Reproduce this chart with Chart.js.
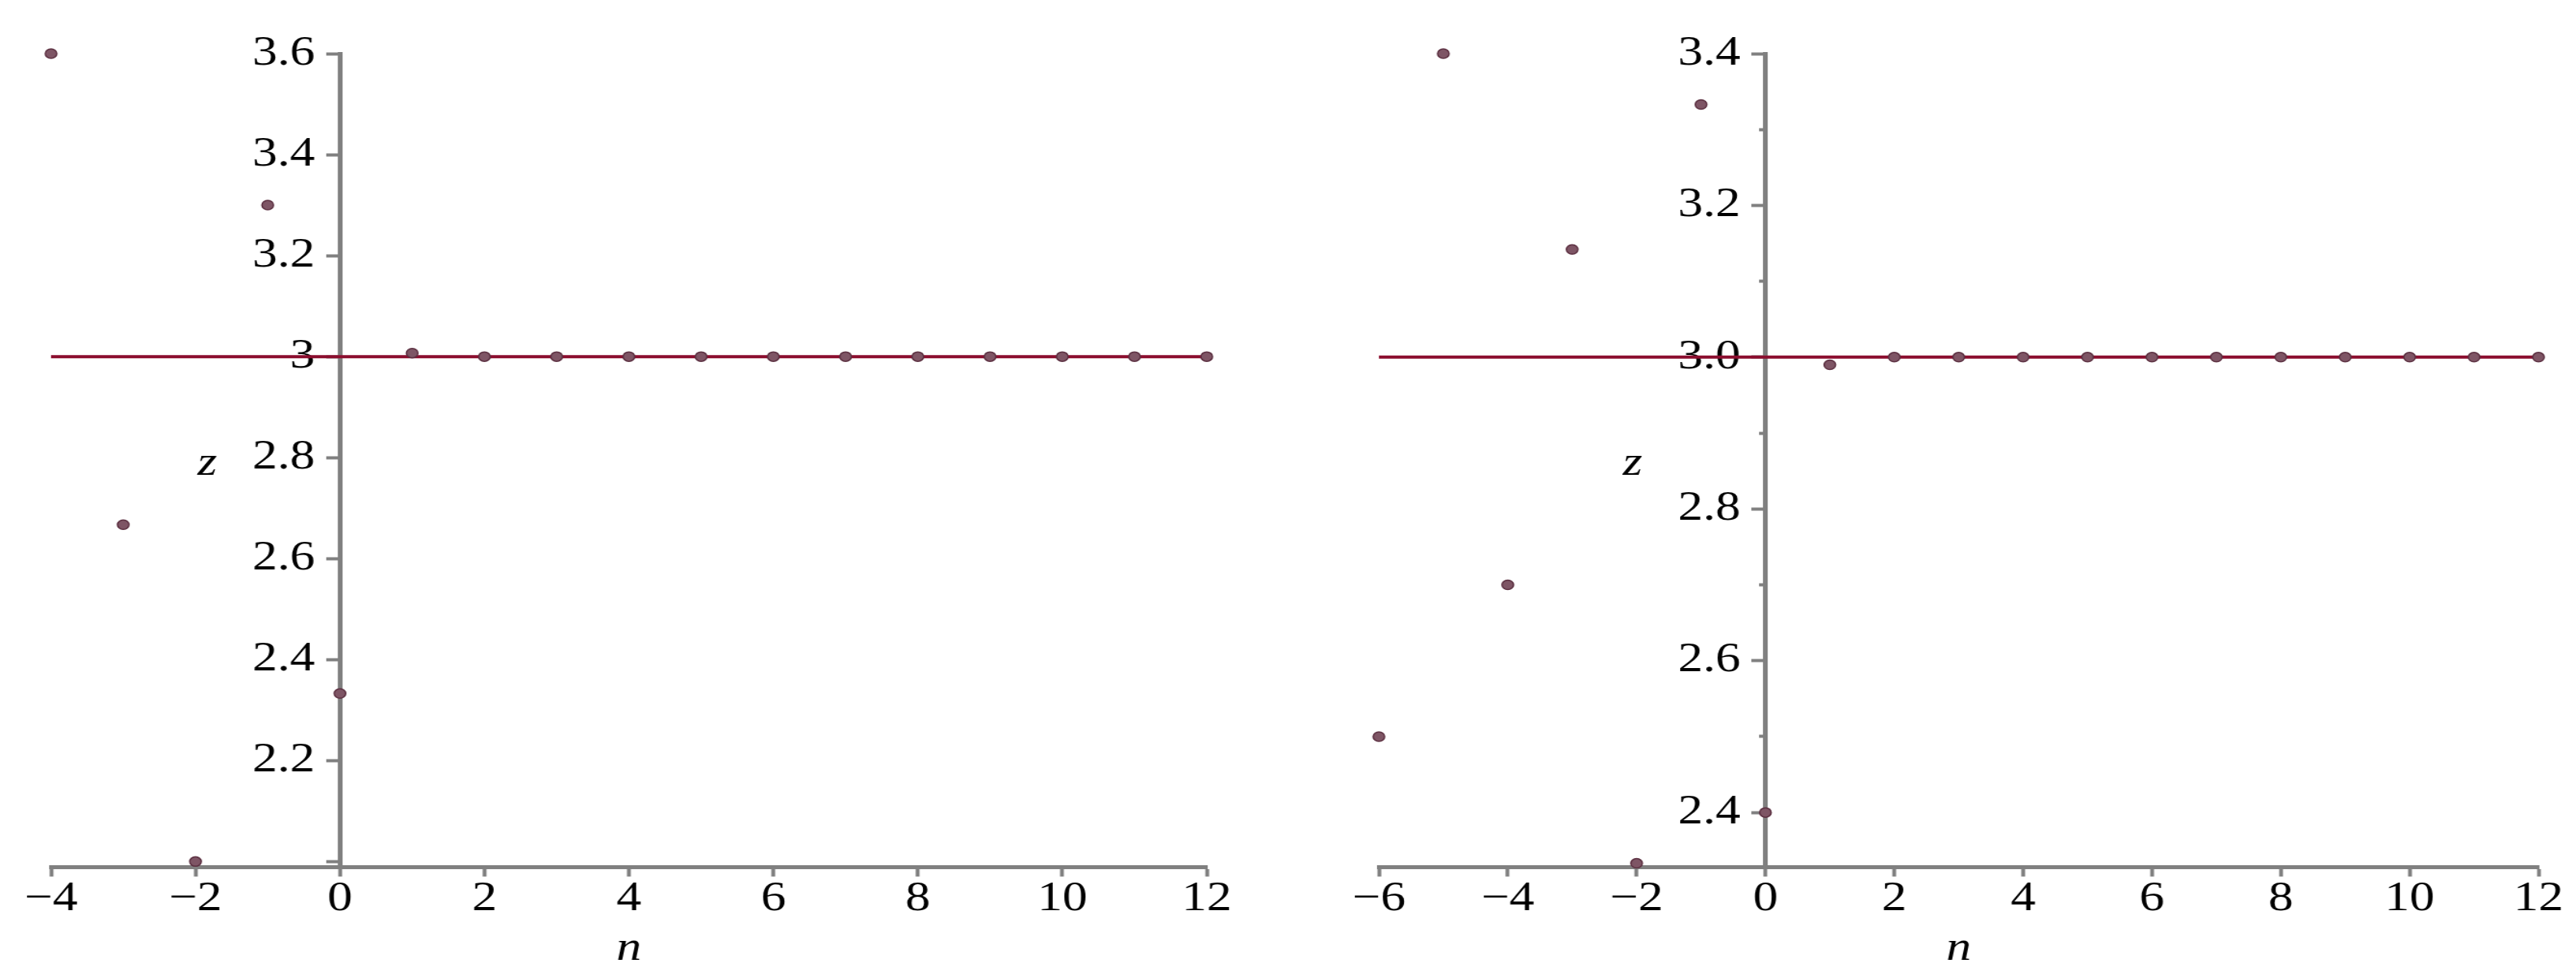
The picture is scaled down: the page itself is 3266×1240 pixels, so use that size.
<!DOCTYPE html>
<html><head><meta charset="utf-8">
<script src="https://cdn.jsdelivr.net/npm/chart.js@4"></script>
<style>
html,body{margin:0;padding:0;background:#fff;width:3266px;height:1240px;overflow:hidden}
.box{position:absolute;top:0;height:1240px}
canvas{display:block}
</style></head><body>
<div class="box" style="left:0px;width:1630px"><canvas id="c1" width="1336" height="1240" style="width:1630px;height:1240px"></canvas></div>
<div class="box" style="left:1636px;width:1630px"><canvas id="c2" width="1336" height="1240" style="width:1630px;height:1240px"></canvas></div>
<script>
// ---- data: left plot ----
const leftN = [-4, -3, -2, -1, 0, 1, 2, 3, 4, 5, 6, 7, 8, 9, 10, 11, 12];
const leftZ = [3.6, 2.667, 2.0, 3.3, 2.333, 3.007, 3, 3, 3, 3, 3, 3, 3, 3, 3, 3, 3];
const leftLineN = [-4, 12];
const leftLineZ = [3, 3];
const leftXTicks = [-4, -2, 0, 2, 4, 6, 8, 10, 12];
const leftYTicks = [2.0, 2.2, 2.4, 2.6, 2.8, 3.0, 3.2, 3.4, 3.6];
const leftYLabels = ['', '2.2', '2.4', '2.6', '2.8', '3', '3.2', '3.4', '3.6'];
const leftYMinor = [];

// ---- data: right plot ----
const rightN = [-6, -5, -4, -3, -2, -1, 0, 1, 2, 3, 4, 5, 6, 7, 8, 9, 10, 11, 12];
const rightZ = [2.5, 3.4, 2.7, 3.142, 2.333, 3.333, 2.4, 2.99, 3, 3, 3, 3, 3, 3, 3, 3, 3, 3, 3];
const rightLineN = [-6, 12];
const rightLineZ = [3, 3];
const rightXTicks = [-6, -4, -2, 0, 2, 4, 6, 8, 10, 12];
const rightYTicks = [2.4, 2.6, 2.8, 3.0, 3.2, 3.4];
const rightYLabels = ['2.4', '2.6', '2.8', '3.0', '3.2', '3.4'];
const rightYMinor = [2.5, 2.7, 2.9, 3.1, 3.3];

const AXIS = '#808080';
const SERIF = '"Liberation Serif", "Times New Roman", serif';
const fmtX = v => (v < 0 ? '\u2212' + Math.abs(v) : String(v));
// trailing gap so the right-aligned labels sit left of the tick marks
const yGap = '\u2002';

const zLabelPlugin = {
  id: 'zlabel',
  afterDraw(chart, args, opts) {
    const ctx = chart.ctx;
    const x0 = chart.scales.x.getPixelForValue(0);
    ctx.save();
    ctx.font = 'italic 52px ' + SERIF;
    ctx.fillStyle = '#000';
    ctx.textAlign = 'center';
    ctx.textBaseline = 'middle';
    ctx.fillText(opts.text, x0 + opts.dx, chart.chartArea.top + opts.dy);
    ctx.restore();
  }
};

function makeChart(id, cfg) {
  const scales = {
    x: {
      type: 'linear', position: 'bottom', min: cfg.xMin, max: cfg.xMax,
      afterBuildTicks: s => { s.ticks = cfg.xTicks.map(v => ({value: v})); },
      ticks: {callback: v => fmtX(v), font: {family: SERIF, size: 52, lineHeight: 1.1}, color: '#000', padding: 0, maxRotation: 0, autoSkip: false},
      grid: {drawOnChartArea: false, drawTicks: true, tickLength: 12, tickWidth: 4, tickColor: AXIS},
      border: {display: true, color: AXIS, width: 5},
      title: {display: true, text: 'n', font: {family: SERIF, style: 'italic', size: 52, lineHeight: 1.2}, color: '#000', padding: {top: 4, bottom: 0}}
    },
    y: {
      type: 'linear', position: {x: 0}, min: cfg.yMin, max: cfg.yMax,
      afterBuildTicks: s => { s.ticks = cfg.yTicks.map(v => ({value: v})); },
      ticks: {callback: (v, i) => (cfg.yLabels[i] ? cfg.yLabels[i] + yGap : ''), font: {family: SERIF, size: 52, lineHeight: 1.1}, color: '#000', padding: 14, autoSkip: false},
      grid: {drawOnChartArea: false, drawTicks: true, tickLength: 12, tickWidth: 4, tickColor: AXIS},
      border: {display: true, color: AXIS, width: 5}
    }
  };
  if (cfg.yMinor.length) {
    scales.y2 = {
      type: 'linear', position: {x: 0}, min: cfg.yMin, max: cfg.yMax,
      afterBuildTicks: s => { s.ticks = cfg.yMinor.map(v => ({value: v})); },
      ticks: {display: false},
      grid: {drawOnChartArea: false, drawTicks: true, tickLength: 7, tickWidth: 4, tickColor: AXIS},
      border: {display: false}
    };
  }
  return new Chart(document.getElementById(id), {
    type: 'scatter',
    data: {
      datasets: [
        {
          type: 'line',
          data: cfg.lineN.map((n, i) => ({x: n, y: cfg.lineZ[i]})),
          borderColor: '#8b0d2e', borderWidth: 4, pointRadius: 0, fill: false, clip: false, order: 2
        },
        {
          type: 'scatter',
          data: cfg.n.map((n, i) => ({x: n, y: cfg.z[i]})),
          pointStyle: 'circle', pointRadius: 6, backgroundColor: '#7e5565', borderColor: '#5b2f40', borderWidth: 1.5, clip: false, order: 1
        }
      ]
    },
    options: {
      responsive: false, animation: false, devicePixelRatio: 1,
      layout: {padding: cfg.padding},
      plugins: {legend: {display: false}, tooltip: {enabled: false}, zlabel: {text: 'z', dx: -138, dy: 520}},
      scales
    },
    plugins: [zLabelPlugin]
  });
}

makeChart('c1', {
  n: leftN, z: leftZ, lineN: leftLineN, lineZ: leftLineZ,
  xMin: -4, xMax: 12, yMin: 1.989, yMax: 3.6,
  xTicks: leftXTicks, yTicks: leftYTicks, yLabels: leftYLabels, yMinor: leftYMinor,
  padding: {left: 53, right: 82, top: 68, bottom: 5}
});
makeChart('c2', {
  n: rightN, z: rightZ, lineN: rightLineN, lineZ: rightLineZ,
  xMin: -6, xMax: 12, yMin: 2.328, yMax: 3.4,
  xTicks: rightXTicks, yTicks: rightYTicks, yLabels: rightYLabels, yMinor: rightYMinor,
  padding: {left: 92, right: 39, top: 68, bottom: 5}
});
</script>
</body></html>
